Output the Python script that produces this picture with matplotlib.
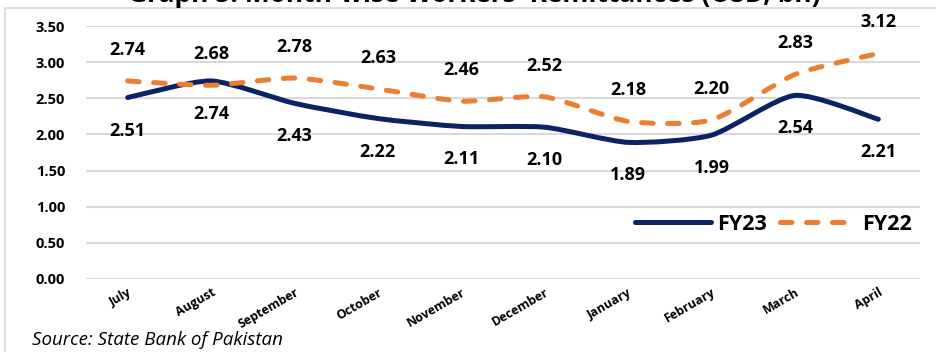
import numpy as np
import matplotlib
matplotlib.use("Agg")
import matplotlib.pyplot as plt
from matplotlib.path import Path
from matplotlib.patches import PathPatch
from matplotlib.lines import Line2D

months = ["July", "August", "September", "October", "November", "December",
          "January", "February", "March", "April"]
fy23 = [2.51, 2.74, 2.43, 2.22, 2.11, 2.10, 1.89, 1.99, 2.54, 2.21]
fy22 = [2.74, 2.68, 2.78, 2.63, 2.46, 2.52, 2.18, 2.20, 2.83, 3.12]
yticks = [0.0, 0.5, 1.0, 1.5, 2.0, 2.5, 3.0, 3.5]

title = "Graph 5: Month-wise Workers' Remittances (USD, bn)"
source = "Source: State Bank of Pakistan"

NAVY = "#0A2463"
ORANGE = "#ED7D31"
GRID = "#D9D9D9"
FONT = "Open Sans"

W, H = 937, 352
fig = plt.figure(figsize=(W / 100, H / 100), dpi=100)
ax = fig.add_axes([86 / W, 1 - 279 / H, (920 - 86) / W, (279 - 26) / H])


def smooth_path(xs, ys, k=0.11):
    """Bezier path through the points with gently smoothed tangents."""
    pts = np.column_stack([xs, ys]).astype(float)
    n = len(pts)
    verts = [pts[0]]
    codes = [Path.MOVETO]
    for i in range(n - 1):
        p0 = pts[i - 1] if i > 0 else pts[i]
        p1 = pts[i]
        p2 = pts[i + 1]
        p3 = pts[i + 2] if i + 2 < n else pts[i + 1]
        c1 = p1 + (p2 - p0) * k
        c2 = p2 - (p3 - p1) * k
        verts += [c1, c2, p2]
        codes += [Path.CURVE4] * 3
    return Path(np.array(verts), codes)


x = np.arange(len(months))
DASH = (0, (2.3, 2.9))

ax.add_patch(PathPatch(smooth_path(x, fy23), fill=False, edgecolor=NAVY,
                       lw=3.6, capstyle="round", joinstyle="round", zorder=3))
ax.add_patch(PathPatch(smooth_path(x, fy22), fill=False, edgecolor=ORANGE,
                       lw=3.6, linestyle=DASH, capstyle="round",
                       joinstyle="round", zorder=3))

# value labels: FY22 above its line, FY23 below
for xi, v in zip(x, fy22):
    ax.annotate(f"{v:.2f}", (xi, v), xytext=(0, 31), textcoords="offset pixels",
                ha="center", va="center", fontsize=13, fontweight="bold",
                family=FONT, color="black", zorder=4)
for xi, v in zip(x, fy23):
    ax.annotate(f"{v:.2f}", (xi, v), xytext=(0, -33), textcoords="offset pixels",
                ha="center", va="center", fontsize=13, fontweight="bold",
                family=FONT, color="black", zorder=4)

ax.set_xlim(-0.5, len(months) - 0.5)
ax.set_ylim(0, 3.5)
ax.set_yticks(yticks)
ax.set_yticklabels([f"{t:.2f}" for t in yticks], fontsize=10.5,
                   fontweight="bold", family=FONT)
ax.set_xticks(x)
ax.set_xticklabels(months, rotation=30, ha="right", rotation_mode="anchor",
                   fontsize=9, fontweight="bold", family=FONT)
ax.tick_params(axis="both", length=0)
ax.tick_params(axis="y", pad=15)
ax.tick_params(axis="x", pad=5)
ax.yaxis.grid(True, color=GRID, lw=1.5)
ax.set_axisbelow(True)
for s in ax.spines.values():
    s.set_visible(False)

leg_handles = [
    Line2D([], [], color=NAVY, lw=3.6, solid_capstyle="round"),
    Line2D([], [], color=ORANGE, lw=3.6, linestyle=DASH, dash_capstyle="round"),
]
ax.legend(leg_handles, ["FY23", "FY22"], loc="lower right",
          bbox_to_anchor=(1.0, 0.14), ncol=2, frameon=False,
          prop={"family": FONT, "weight": "bold", "size": 15.5},
          handlelength=3.5, columnspacing=0.6, handletextpad=0.3,
          borderaxespad=0.0)

# chart frame
fig.add_artist(Line2D([5 / W, 5 / W], [0, 1 - 8 / H], transform=fig.transFigure,
                      color=GRID, lw=1.2))
fig.add_artist(Line2D([5 / W, 1], [1 - 8 / H, 1 - 8 / H], transform=fig.transFigure,
                      color=GRID, lw=1.2))

fig.text(474 / W, 1 - 2 / H, title, ha="center", va="baseline", fontsize=19,
         fontweight="bold", family=FONT)
fig.text(32 / W, 1 - 345 / H, source, ha="left", va="baseline", fontsize=13.5,
         style="italic", family=FONT)

fig.savefig("out.png", dpi=100)
